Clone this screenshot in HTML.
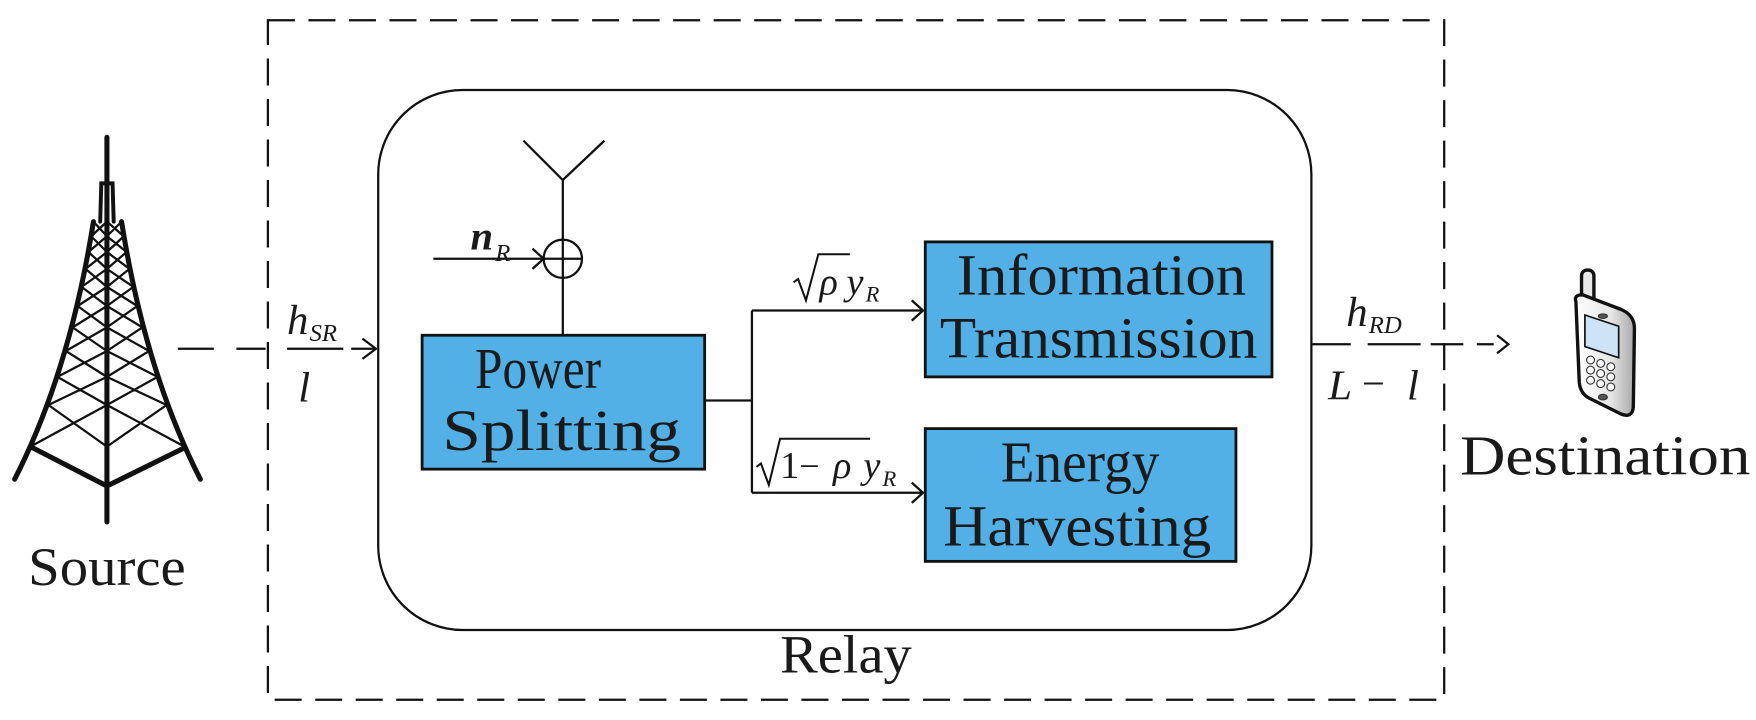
<!DOCTYPE html>
<html><head><meta charset="utf-8"><style>
html,body{margin:0;padding:0;background:#fff;}
svg{display:block;}
.t{font-family:"Liberation Serif",serif;fill:#1a1a1a;}
.m{font-family:"Liberation Serif",serif;font-style:italic;fill:#1a1a1a;}
</style></head><body>
<svg width="1756" height="720" viewBox="0 0 1560 640" preserveAspectRatio="none" xmlns="http://www.w3.org/2000/svg">
<defs>
<linearGradient id="pg" x1="0" y1="0" x2="1" y2="0">
<stop offset="0" stop-color="#ffffff"/><stop offset="0.6" stop-color="#e6e6e6"/><stop offset="1" stop-color="#a8a8a8"/>
</linearGradient>
</defs>
<rect width="1560" height="640" fill="#fff"/>
<!-- Tower -->
<g stroke="#111" fill="none" stroke-linecap="round">
<line x1="95" y1="122" x2="95" y2="464" stroke-width="4.5"/>
<path d="M89 197 L90 163 L100 163 L101 197" stroke-width="3.5"/>
<path d="M83 197 Q62 330 13 426 M108 197 Q129 330 178 426" stroke-width="4.5"/>
<path d="M27 397 L95 432 L164 398" stroke-width="4.5"/>
<path stroke-width="2" d="M83 197L95 210M95 197L81 210M108 197L95 210M95 197L110 210
M81 210L95 224M95 210L78.5 224M110 210L95 224M95 210L112.5 224
M78.5 224L95 239M95 224L76 239M112.5 224L95 239M95 224L115 239
M76 239L95 255M95 239L72.5 255M115 239L95 255M95 239L118.5 255
M72.5 255L95 272M95 255L69 272M118.5 255L95 272M95 255L122 272
M69 272L95 291M95 272L64.5 291M122 272L95 291M95 272L126.5 291
M64.5 291L95 312M95 291L58.5 312M126.5 291L95 312M95 291L132.5 312
M58.5 312L95 335M95 312L51 335M132.5 312L95 335M95 312L140 335
M51 335L95 360M95 335L43 360M140 335L95 360M95 335L148 360
M43 360L95 397M95 360L27 397M148 360L95 397M95 360L164 397"/>
</g>
<text class="t" x="25" y="520" font-size="48" textLength="140" lengthAdjust="spacingAndGlyphs">Source</text>

<!-- Outer dashed relay box -->
<rect x="238" y="18" width="1045" height="604" fill="none" stroke="#111" stroke-width="2" stroke-dasharray="24,12"/>
<text class="t" x="693" y="598" font-size="48" textLength="117" lengthAdjust="spacingAndGlyphs">Relay</text>

<!-- Inner rounded box -->
<rect x="336" y="80" width="829" height="480" rx="75" ry="75" fill="none" stroke="#111" stroke-width="2"/>

<!-- Source link -->
<g stroke="#111" stroke-width="2" fill="none">
<path d="M158 310 H190 M210 310 H236 M255 310 H305 M312 310 H334" />
<path d="M322 301 L334 310 L322 319"/>
</g>
<text class="m" x="255" y="297" font-size="38">h</text>
<text class="m" x="275" y="303" font-size="22">SR</text>
<text class="m" x="265" y="357" font-size="38">l</text>

<!-- Antenna, adder -->
<g stroke="#111" stroke-width="2" fill="none">
<path d="M465 125 L500 160 L537 125 M500 160 V298"/>
<circle cx="500" cy="230" r="17" fill="#fff"/>
<path d="M483 230 H517 M500 213 V247"/>
<path d="M385 230 H483 M473 221 L483 230 L473 239"/>
</g>
<text class="m" x="418" y="222" font-size="36" font-weight="bold">n</text>
<text class="m" x="440" y="232" font-size="22">R</text>

<!-- Power splitting -->
<rect x="375" y="298" width="251" height="119" fill="#52b0e6" stroke="#111" stroke-width="2.5"/>
<text class="t" x="422" y="345" font-size="52" textLength="112" lengthAdjust="spacingAndGlyphs">Power</text>
<text class="t" x="393" y="400" font-size="52" textLength="212" lengthAdjust="spacingAndGlyphs">Splitting</text>

<!-- Branches -->
<g stroke="#111" stroke-width="2" fill="none">
<path d="M626 356 H668 M668 276 V438 M668 276 H820 M668 438 H820"/>
<path d="M810 267 L820 276 L810 285 M810 429 L820 438 L810 447"/>
</g>
<!-- sqrt(rho) y_R -->
<g stroke="#111" stroke-width="1.8" fill="none">
<path d="M705 251 L709 248 L716 267 L727 226 H755"/>
<path d="M672 415 L676 412 L683 431 L693 390 H773"/>
</g>
<text class="m" x="728" y="262" font-size="34">ρ</text>
<text class="m" x="752" y="262" font-size="34">y</text>
<text class="m" x="769" y="268" font-size="20">R</text>
<text class="t" x="693" y="425" font-size="34">1</text>
<text class="t" x="710" y="425" font-size="32">−</text>
<text class="m" x="740" y="425" font-size="34">ρ</text>
<text class="m" x="767" y="425" font-size="34">y</text>
<text class="m" x="784" y="432" font-size="20">R</text>

<!-- Info box -->
<rect x="822" y="215" width="308" height="120" fill="#52b0e6" stroke="#111" stroke-width="2.5"/>
<text class="t" x="850" y="262" font-size="52" textLength="257" lengthAdjust="spacingAndGlyphs">Information</text>
<text class="t" x="835" y="318" font-size="52" textLength="282" lengthAdjust="spacingAndGlyphs">Transmission</text>
<!-- Energy box -->
<rect x="822" y="381" width="276" height="118" fill="#52b0e6" stroke="#111" stroke-width="2.5"/>
<text class="t" x="889" y="428" font-size="52" textLength="141" lengthAdjust="spacingAndGlyphs">Energy</text>
<text class="t" x="838" y="485" font-size="52" textLength="238" lengthAdjust="spacingAndGlyphs">Harvesting</text>

<!-- Right link -->
<g stroke="#111" stroke-width="2" fill="none">
<path d="M1165 306 H1200 M1215 306 H1262 M1271 306 H1300 M1312 306 H1327"/>
<path d="M1330 298 L1340 306 L1330 314"/>
</g>
<text class="m" x="1196" y="290" font-size="38">h</text>
<text class="m" x="1216" y="296" font-size="22">RD</text>
<text class="m" x="1180" y="355" font-size="38">L</text>
<text class="t" x="1210" y="353" font-size="36">−</text>
<text class="m" x="1250" y="355" font-size="38">l</text>

<!-- Phone -->
<g stroke="#111" stroke-width="3">
<rect x="1405" y="240" width="11" height="32" rx="5" fill="#e8e8e8"/>
<path d="M1400 268 Q1398 262 1406 262 L1440 275 Q1452 280 1452 292 L1451 362 Q1450 372 1440 368 L1412 354 Q1404 350 1403 340 Z" fill="url(#pg)"/>
</g>
<path d="M1408 280 L1438 290 L1438 318 L1408 308 Z" fill="#cfe3f7" stroke="#111" stroke-width="1.5"/>
<g fill="#fff" stroke="#333" stroke-width="1">
<circle cx="1413" cy="320" r="3.5"/><circle cx="1422" cy="323" r="3.5"/><circle cx="1431" cy="326" r="3.5"/>
<circle cx="1413" cy="329" r="3.5"/><circle cx="1422" cy="332" r="3.5"/><circle cx="1431" cy="335" r="3.5"/>
<circle cx="1413" cy="338" r="3.5"/><circle cx="1422" cy="341" r="3.5"/><circle cx="1431" cy="344" r="3.5"/>
<ellipse cx="1424" cy="353" rx="4" ry="2.5" fill="#555"/>
<ellipse cx="1424" cy="281" rx="4" ry="2" fill="#555"/>
</g>
<text class="t" x="1297" y="422" font-size="50" textLength="258" lengthAdjust="spacingAndGlyphs">Destination</text>
</svg>
</body></html>
